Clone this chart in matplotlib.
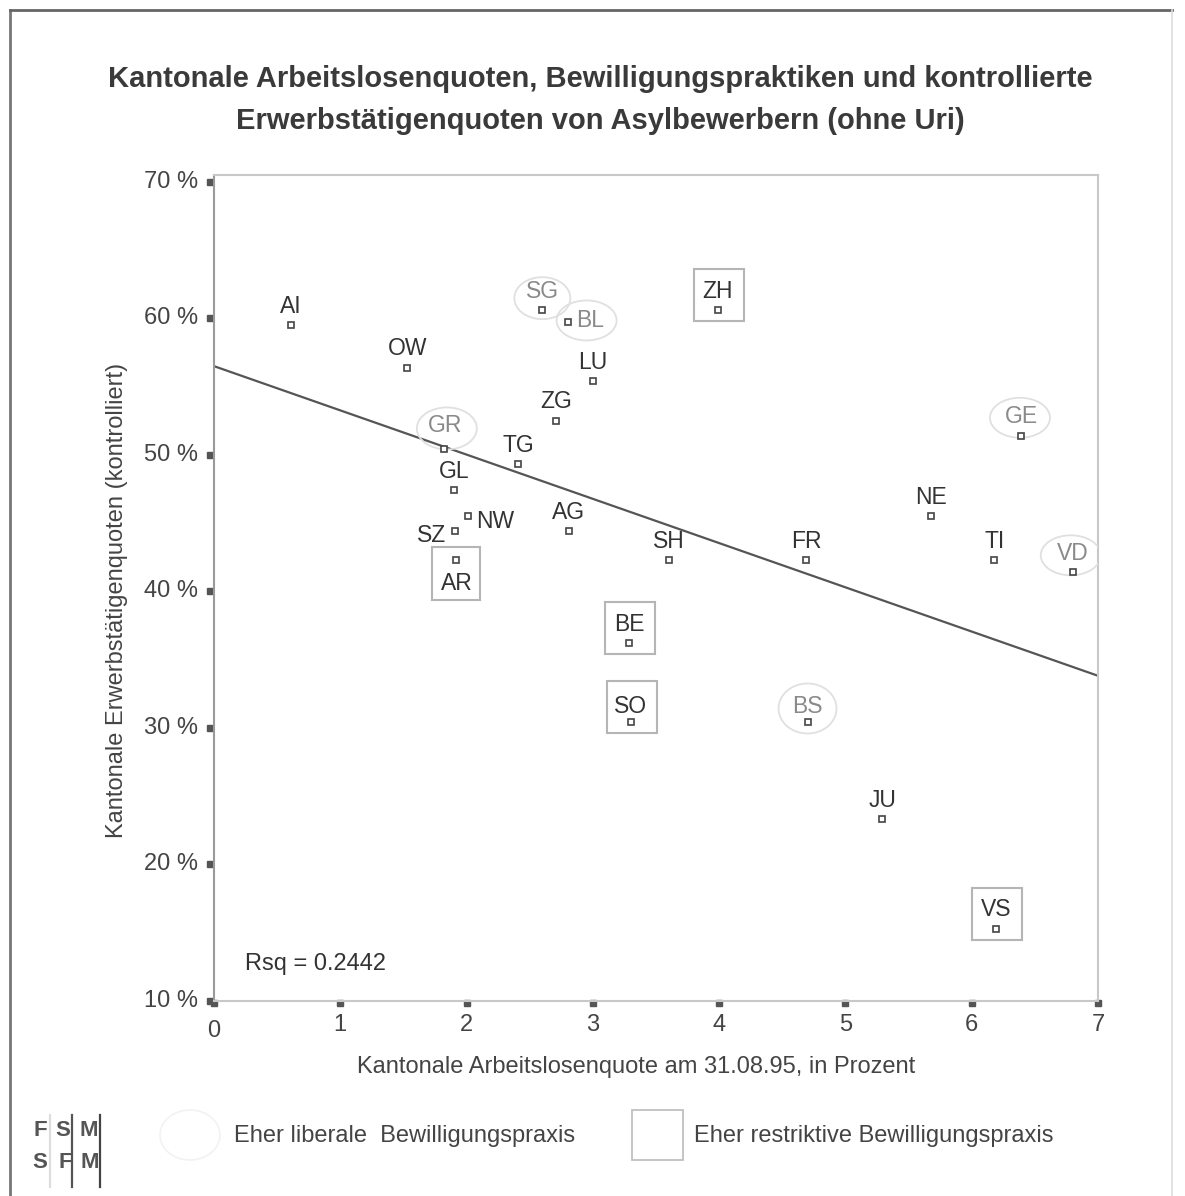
import matplotlib
matplotlib.use("Agg")
import matplotlib.pyplot as plt
import matplotlib.transforms as mtransforms
from matplotlib.patches import Rectangle, Ellipse
from matplotlib.lines import Line2D

plt.rcParams['font.family'] = ['Liberation Sans', 'DejaVu Sans']

# ---- data ----
cantons = ["AI", "OW", "SG", "BL", "ZH", "LU", "ZG", "GR", "TG", "GL", "NW", "SZ",
           "AG", "AR", "SH", "FR", "NE", "TI", "VD", "GE", "BE", "SO", "BS", "JU", "VS"]
unemployment = [0.61, 1.53, 2.60, 2.80, 3.99, 3.00, 2.71, 1.82, 2.41, 1.90, 2.01, 1.91,
                2.81, 1.92, 3.60, 4.69, 5.68, 6.18, 6.80, 6.39, 3.29, 3.30, 4.70, 5.29, 6.19]
employment = [59.5, 56.4, 60.6, 59.7, 60.6, 55.4, 52.5, 50.4, 49.3, 47.4, 45.5, 44.4,
              44.4, 42.3, 42.3, 42.3, 45.5, 42.3, 41.4, 51.4, 36.2, 30.4, 30.4, 23.3, 15.3]
liberal = ["SG", "BL", "GR", "GE", "VD", "BS"]
restrictive = ["ZH", "AR", "BE", "SO", "VS"]
fit_intercept = 56.5
fit_slope = -3.24
rsq_text = "Rsq = 0.2442"
x_ticks = [0, 1, 2, 3, 4, 5, 6, 7]
y_ticks = [10, 20, 30, 40, 50, 60, 70]
y_ticklabels = ["10 %", "20 %", "30 %", "40 %", "50 %", "60 %", "70 %"]
title = ("Kantonale Arbeitslosenquoten, Bewilligungspraktiken und kontrollierte\n"
         "Erwerbstätigenquoten von Asylbewerbern (ohne Uri)")
xlabel = "Kantonale Arbeitslosenquote am 31.08.95, in Prozent"
ylabel = "Kantonale Erwerbstätigenquoten (kontrolliert)"
legend_labels = ["Eher liberale  Bewilligungspraxis", "Eher restriktive Bewilligungspraxis"]

# label placement (offset in pixels, alignment)
label_pos = {c: (0, 19, 'center') for c in cantons}
label_pos.update({"BL": (9, 2, 'left'), "NW": (8, -5, 'left'), "SZ": (-9, -4, 'right'),
                  "AR": (0, -23, 'center'), "GR": (1, 24, 'center'),
                  "SO": (0, 16, 'center'), "BS": (0, 16, 'center')})
ellipse_pos = {"SG": (0, 12, 56, 42), "BL": (19, 2, 60, 40), "GR": (3, 21, 60, 42),
               "GE": (-1, 18, 60, 40), "VD": (-2, 17, 60, 40), "BS": (0, 14, 58, 50)}

W, H = 1185, 1196
fig = plt.figure(figsize=(W / 100, H / 100), dpi=100)
ax = fig.add_axes([214 / W, 1 - 1001 / H, (1098 - 214) / W, (1001 - 175) / H])
ax.set_xlim(0, 7)
ax.set_ylim(10, 70.5)

dark = "#333333"
light = "#8a8a8a"
txtc = "#444444"
fs = 17

for s in ["top", "right", "bottom"]:
    ax.spines[s].set_color("#c8c8c8")
    ax.spines[s].set_linewidth(1.5)
ax.spines["left"].set_color("#9a9a9a")
ax.spines["left"].set_linewidth(1.5)
ax.set_xticks([])
ax.set_yticks([])

# tick squares and labels
ax.plot([-0.035] * len(y_ticks), y_ticks, 's', color="#555555", ms=5, clip_on=False)
ax.plot(x_ticks, [9.85] * len(x_ticks), 's', color="#555555", ms=5, clip_on=False)
for v, lab in zip(y_ticks, y_ticklabels):
    ax.annotate(lab, (0, v), xytext=(-16, 0), textcoords='offset pixels',
                ha='right', va='center', fontsize=fs, color=txtc)
for v in x_ticks:
    dy = -30 if v == 0 else -24
    ax.annotate(str(v), (v, 10), xytext=(0, dy), textcoords='offset pixels',
                ha='center', va='center', fontsize=fs, color=txtc)

# regression line
xs = [0, 7]
ax.plot(xs, [fit_intercept + fit_slope * x for x in xs], color="#555555", lw=1.6)

# points
ax.plot(unemployment, employment, 's', ms=4.5, mfc='white', mec="#444444", mew=1.2,
        linestyle='none', zorder=4)

for c, x, y in zip(cantons, unemployment, employment):
    dx, dy, ha = label_pos[c]
    col = light if c in liberal else dark
    ax.annotate(c, (x, y), xytext=(dx, dy), textcoords='offset pixels',
                ha=ha, va='center', fontsize=16.5, color=col, zorder=5)
    t = mtransforms.Affine2D().scale(1) + mtransforms.ScaledTranslation(x, y, ax.transData)
    if c in restrictive:
        if c == "AR":
            rect = Rectangle((-24, -40), 48, 53, transform=t, fill=False,
                             ec="#b5b5b5", lw=1.5, zorder=3)
        else:
            rect = Rectangle((-24, -11), 50, 52, transform=t, fill=False,
                             ec="#b5b5b5", lw=1.5, zorder=3)
        ax.add_patch(rect)
    if c in ellipse_pos:
        ex, ey, ew, eh = ellipse_pos[c]
        ax.add_patch(Ellipse((ex, ey), ew, eh, transform=t, fill=False,
                             ec="#e0e0e0", lw=1.3, zorder=3))

ax.text(0.035, 0.045, rsq_text, transform=ax.transAxes, fontsize=fs, color=dark,
        ha='left', va='center')

# title and axis labels
fig.text(0.507, 1 - 100 / H, title, ha='center', va='center', fontsize=21,
         fontweight='bold', color="#3a3a3a", linespacing=1.6)
fig.text(117 / W, 1 - 600 / H, ylabel, rotation=90, ha='center', va='center',
         fontsize=fs, color=txtc)
fig.text(636 / W, 1 - 1067 / H, xlabel, ha='center', va='center',
         fontsize=fs, color=txtc)

# outer frame
fig.add_artist(Line2D([10 / W, 10 / W], [1 - 10 / H, 0], transform=fig.transFigure,
                      color="#777777", lw=2))
fig.add_artist(Line2D([10 / W, 1172 / W], [1 - 10 / H, 1 - 10 / H], transform=fig.transFigure,
                      color="#666666", lw=2))
fig.add_artist(Line2D([1172 / W, 1172 / W], [1 - 10 / H, 0], transform=fig.transFigure,
                      color="#dddddd", lw=1.2))

# legend
fig.add_artist(Ellipse((190 / W, 1 - 1135 / H), 60 / W, 50 / H, transform=fig.transFigure,
                       fill=False, ec="#f2f2f2", lw=1.2))
fig.text(234 / W, 1 - 1136 / H, legend_labels[0], ha='left', va='center',
         fontsize=fs, color=txtc)
fig.add_artist(Rectangle((632 / W, 1 - 1160 / H), 51 / W, 50 / H, transform=fig.transFigure,
                         fill=False, ec="#c0c0c0", lw=1.3))
fig.text(694 / W, 1 - 1136 / H, legend_labels[1], ha='left', va='center',
         fontsize=fs, color=txtc)

# logo
for txt, lx, ly in [("F", 40, 1130), ("S", 63, 1130), ("M", 89, 1130),
                    ("S", 40, 1163), ("F", 65, 1163), ("M", 90, 1163)]:
    fig.text(lx / W, 1 - ly / H, txt, ha='center', va='center', fontsize=16,
             color="#555555", fontweight='bold')
for lx, c in [(72, "#555555"), (100, "#444444"), (50, "#dddddd")]:
    fig.add_artist(Line2D([lx / W, lx / W], [1 - 1115 / H, 1 - 1187 / H],
                          transform=fig.transFigure, color=c, lw=1.6))

fig.savefig("out.png", dpi=100, facecolor="white")
